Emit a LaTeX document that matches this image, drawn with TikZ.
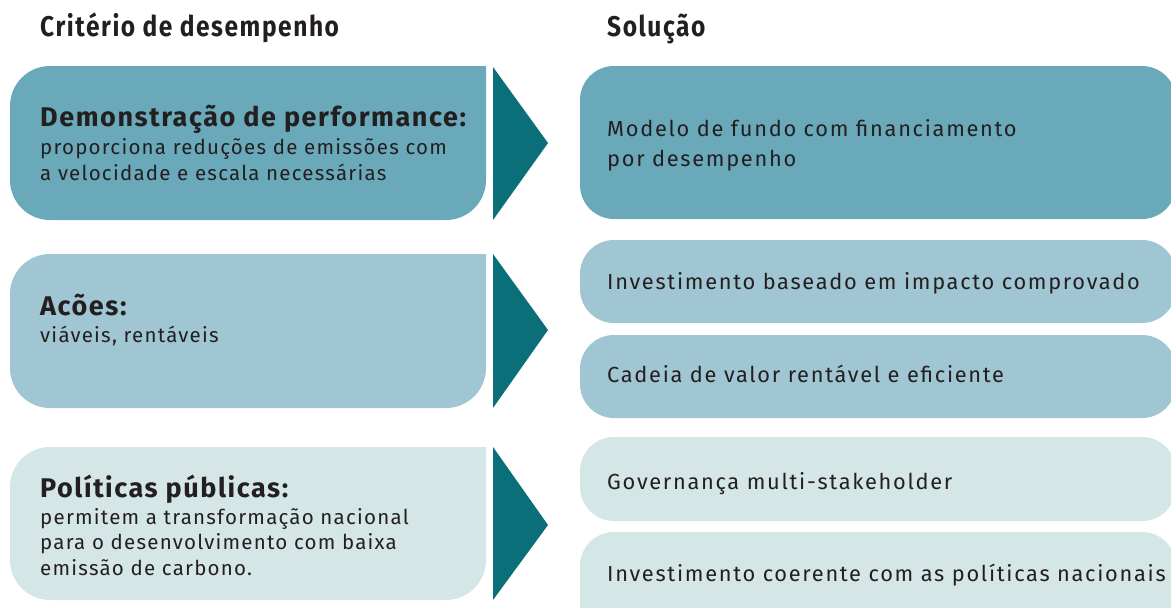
\documentclass[tikz,border=0pt]{standalone}
\usepackage{fontspec}
\setmainfont{Fira Sans}
\newfontfamily\hdrfont[FakeStretch=0.86,LetterSpace=5.5]{Fira Sans}
\newfontfamily\ttlfont[LetterSpace=5.8]{Fira Sans}
\newfontfamily\subfont[LetterSpace=6]{Fira Sans}
\newfontfamily\solfont[LetterSpace=7.8]{Fira Sans}
\definecolor{cA}{HTML}{6AA9B9}
\definecolor{cB}{HTML}{A0C6D4}
\definecolor{cC}{HTML}{D5E6E7}
\definecolor{arr}{HTML}{0B6F79}
\definecolor{txt}{HTML}{231F20}
\tikzset{
  hdr/.style={anchor=base west, inner sep=0pt, text=txt, font=\hdrfont\bfseries\fontsize{28.5}{30}\selectfont},
  ttl/.style={anchor=base west, inner sep=0pt, text=txt, font=\ttlfont\bfseries\fontsize{27}{30}\selectfont},
  sub/.style={anchor=base west, inner sep=0pt, text=txt, font=\subfont\fontsize{20.5}{25.5}\selectfont, align=left},
  sol/.style={anchor=base west, inner sep=0pt, text=txt, font=\solfont\fontsize{21.8}{30}\selectfont, align=left},
  arrow/.style={fill=arr, draw=none},
}
\begin{document}
\begin{tikzpicture}[x=1pt,y=-1pt]
\useasboundingbox (0,0) rectangle (1171,608);
\clip (0,0) rectangle (1171,608);
% left boxes
\fill[cA, rounded corners=40pt] (486,66) -- (10,66) -- (10,220) -- (486,220) [sharp corners] -- cycle;
\fill[cB, rounded corners=40pt] (486,254) -- (10,254) -- (10,408) -- (486,408) [sharp corners] -- cycle;
\fill[cC, rounded corners=40pt] (486,447) -- (10,447) -- (10,600) -- (486,600) [sharp corners] -- cycle;
% arrows
\fill[arrow] (493,67) -- (548,143) -- (493,220) -- cycle;
\fill[arrow] (493,254) -- (548,330) -- (493,408) -- cycle;
\fill[arrow] (493,447) -- (548,525) -- (493,600) -- cycle;
% right boxes
\fill[cA, rounded corners=34pt] (580,66) rectangle (1176,219);
\fill[cB, rounded corners=34pt] (580,240) rectangle (1176,323);
\fill[cB, rounded corners=34pt] (580,335) rectangle (1176,418);
\fill[cC, rounded corners=34pt] (580,437) rectangle (1176,521);
\fill[cC, rounded corners=34pt] (580,532) rectangle (1176,640);
% headers
\node[hdr] (h1) at (40,36) {Critério de desempenho};
\node[hdr] (h2) at (607,36) {Solução};
% left texts
\node[ttl] (t1) at (40,126) {Demonstração de performance:};
\node[sub] (s1a) at (40,154) {proporciona reduções de emissões com};
\node[sub] (s1b) at (40,180) {a velocidade e escala necessárias};
\node[ttl] (t2) at (40,315) {Acões:};
\node[sub] (s2a) at (40,342) {viáveis, rentáveis};
\node[ttl] (t3) at (40,497) {Políticas públicas:};
\node[sub] (s3a) at (40,524) {permitem a transformação nacional};
\node[sub] (s3b) at (40,549) {para o desenvolvimento com baixa};
\node[sub] (s3c) at (40,575) {emissão de carbono.};
% right texts
\node[sol] (r1a) at (607,136) {Modelo de fundo com financiamento};
\node[sol] (r1b) at (607,166) {por desempenho};
\node[sol] (r2) at (607,289) {Investimento baseado em impacto comprovado};
\node[sol] (r3) at (607,382) {Cadeia de valor rentável e eficiente};
\node[sol] (r4) at (607,489) {Governança multi-stakeholder};
\node[sol] (r5) at (607,581) {Investimento coerente com as políticas nacionais};
\end{tikzpicture}
\end{document}
